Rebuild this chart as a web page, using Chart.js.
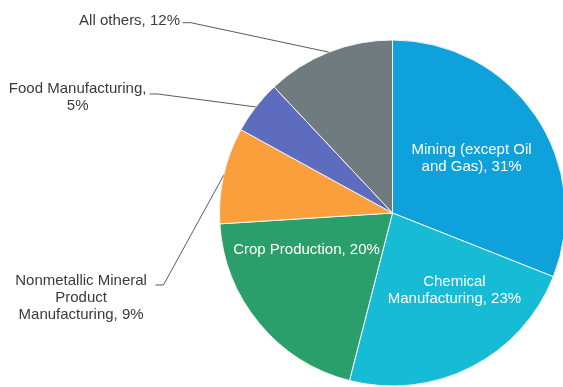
<!DOCTYPE html>
<html><head><meta charset="utf-8">
<script src="https://cdn.jsdelivr.net/npm/chart.js@4"></script>
<style>html,body{margin:0;padding:0;overflow:hidden;background:#fff;width:563px;height:387px}#wrap{position:absolute;left:0;top:0;width:600px;height:387px}</style>
</head><body><div id="wrap"><canvas id="c" width="600" height="387"></canvas></div>
<script>
const categories = ["Mining (except Oil and Gas)", "Chemical Manufacturing", "Crop Production", "Nonmetallic Mineral Product Manufacturing", "Food Manufacturing", "All others"];
const shares = [31, 23, 20, 9, 5, 12];
const colors = ["#0ea1db", "#16bcd6", "#2b9f6b", "#fb9e3c", "#5d6cbf", "#707b7f"];
const labelLines = [
  ["Mining (except Oil", "and Gas), 31%"],
  ["Chemical", "Manufacturing, 23%"],
  ["Crop Production, 20%"],
  ["Nonmetallic Mineral", "Product", "Manufacturing, 9%"],
  ["Food Manufacturing,", "5%"],
  ["All others, 12%"]
];
// label placement relative to pie centre, in units of the radius
const labelPos = [
  {inside:true, dx:0.457, dy:-0.318},
  {inside:true, dx:0.358, dy:0.445},
  {inside:true, dx:-0.497, dy:0.214},
  {inside:false, dx:-1.80, dy:0.49, lx:-1.37, ly:0.416},
  {inside:false, dx:-1.82, dy:-0.668, lx:-1.405, ly:-0.688},
  {inside:false, dx:-1.52, dy:-1.11, lx:-1.212, ly:-1.10}
];

const labelPlugin = {
  id: 'pieLabels',
  afterDatasetsDraw(chart) {
    const ctx = chart.ctx;
    const meta = chart.getDatasetMeta(0);
    ctx.save();
    ctx.font = '15px "Liberation Sans", Arial, sans-serif';
    ctx.textAlign = 'center';
    ctx.textBaseline = 'middle';
    const lh = 16.8;
    meta.data.forEach((arc, i) => {
      const p = arc.getProps(['x','y','outerRadius','startAngle','endAngle'], true);
      const r = p.outerRadius;
      const lp = labelPos[i];
      const lines = labelLines[i];
      const cx = p.x + lp.dx * r, cy = p.y + lp.dy * r;
      if (lp.inside) {
        ctx.fillStyle = '#ffffff';
      } else {
        ctx.fillStyle = '#3a3a3a';
        const mid = (p.startAngle + p.endAngle) / 2;
        const ex = p.x + Math.cos(mid) * r, ey = p.y + Math.sin(mid) * r;
        const sx = p.x + lp.lx * r, sy = p.y + lp.ly * r;
        ctx.strokeStyle = '#5a5a5a';
        ctx.lineWidth = 1;
        ctx.beginPath();
        ctx.moveTo(sx, sy);
        ctx.lineTo(sx + 8, sy);
        ctx.lineTo(ex, ey);
        ctx.stroke();
      }
      const y0 = cy - (lines.length - 1) * lh / 2;
      lines.forEach((t, k) => ctx.fillText(t, cx, y0 + k * lh));
    });
    ctx.restore();
  }
};

new Chart(document.getElementById('c'), {
  type: 'pie',
  data: {
    labels: categories,
    datasets: [{ data: shares, backgroundColor: colors, borderColor: '#f4f4f4', borderWidth: 1 }]
  },
  options: {
    responsive: false,
    animation: false,
    layout: { padding: { left: 219, right: 34, top: 39, bottom: 0 } },
    plugins: { legend: { display: false }, tooltip: { enabled: false } }
  },
  plugins: [labelPlugin]
});
</script></body></html>
